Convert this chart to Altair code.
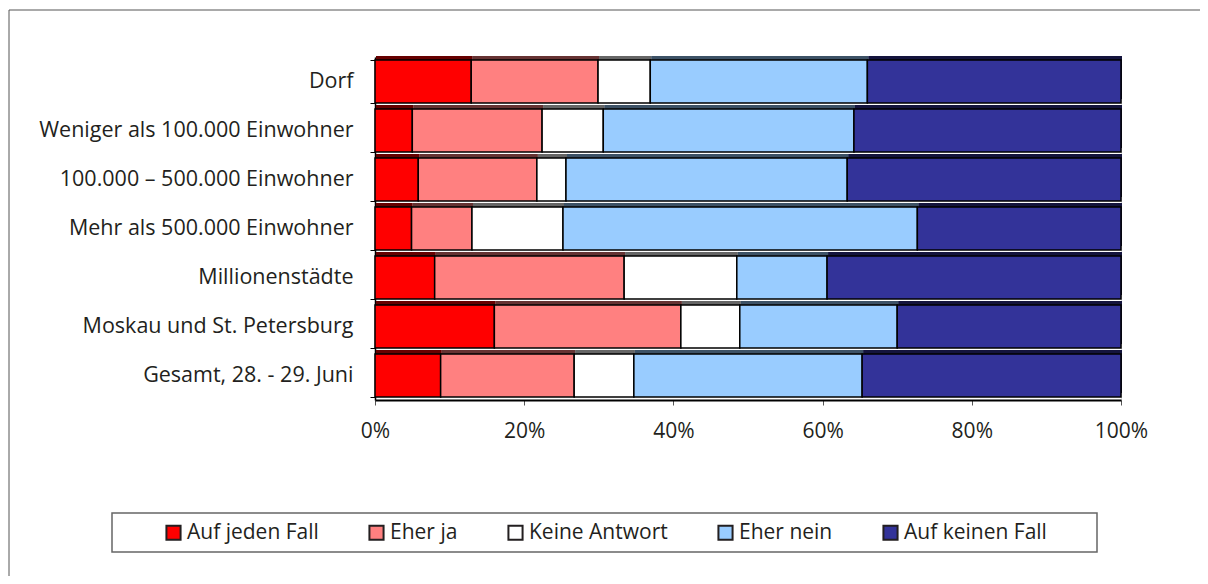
import altair as alt
import pandas as pd

categories = [
    "Dorf",
    "Weniger als 100.000 Einwohner",
    "100.000 – 500.000 Einwohner",
    "Mehr als 500.000 Einwohner",
    "Millionenstädte",
    "Moskau und St. Petersburg",
    "Gesamt, 28. - 29. Juni",
]
answers = ["Auf jeden Fall", "Eher ja", "Keine Antwort", "Eher nein", "Auf keinen Fall"]
auf_jeden_fall = [12.9, 5.0, 5.8, 4.9, 8.0, 16.0, 8.8]
eher_ja = [17.0, 17.4, 15.9, 8.1, 25.4, 25.0, 17.9]
keine_antwort = [7.0, 8.2, 3.9, 12.2, 15.1, 7.9, 8.0]
eher_nein = [29.1, 33.6, 37.7, 47.5, 12.1, 21.1, 30.6]
auf_keinen_fall = [34.0, 35.8, 36.7, 27.3, 39.4, 30.0, 34.7]
colors = ["#FF0000", "#FF8080", "#FFFFFF", "#99CCFF", "#333399"]

series = [auf_jeden_fall, eher_ja, keine_antwort, eher_nein, auf_keinen_fall]
rows = []
for i, ans in enumerate(answers):
    for c, v in zip(categories, series[i]):
        rows.append({"Kategorie": c, "Antwort": ans, "Wert": v, "ord": i})
df = pd.DataFrame(rows)

FONT = "Open Sans"
TXT = "#231F20"
FS = 21

y_enc = alt.Y(
    "Kategorie:N",
    sort=categories,
    title=None,
    scale=alt.Scale(paddingInner=0.12, paddingOuter=0.06),
    axis=alt.Axis(
        tickBand="extent",
        tickSize=5,
        tickColor="#000000",
        domainColor="#000000",
        domainWidth=1.5,
        labelPadding=17,
        labelFontSize=21.5,
        labelFont=FONT,
        labelColor=TXT,
        labelLimit=400,
    ),
)
x_enc = alt.X(
    "Wert:Q",
    stack="normalize",
    title=None,
    scale=alt.Scale(domain=[0, 1], nice=False),
    axis=alt.Axis(
        values=[0, 0.2, 0.4, 0.6, 0.8, 1.0],
        format=".0%",
        tickSize=5,
        tickColor="#555555",
        domainColor="#000000",
        domainWidth=2,
        labelPadding=15,
        labelFlush=False,
        labelFontSize=FS,
        labelFont=FONT,
        labelColor=TXT,
        grid=False,
    ),
)
order_enc = alt.Order("ord:Q", sort="ascending")
color_scale = alt.Scale(domain=answers, range=colors)

legend = alt.Legend(
    orient="none",
    legendX=-212,
    legendY=465,
    direction="horizontal",
    symbolType="square",
    symbolSize=200,
    symbolStrokeColor=TXT,
    symbolStrokeWidth=2,
    symbolOpacity=1,
    labelFontSize=FS,
    labelFont=FONT,
    labelColor=TXT,
    labelOffset=3,
    columnPadding=46,
    padding=0,
    labelLimit=300,
)
color_enc = alt.Color("Antwort:N", scale=color_scale, sort=answers, title=None, legend=legend)

base = alt.Chart(df)

shadow_black = base.mark_bar(color="#000000", xOffset=1, yOffset=-4).encode(
    x=x_enc, y=y_enc, order=order_enc, detail="Antwort:N"
)
shadow_col = base.mark_bar(opacity=0.4, xOffset=1, yOffset=-4).encode(
    x=x_enc, y=y_enc, order=order_enc, color=color_enc
)
main = base.mark_bar(stroke="#000000", strokeWidth=1.5).encode(
    x=x_enc, y=y_enc, order=order_enc, color=color_enc
)

one = alt.Data(values=[{}])
frame_top = alt.Chart(one).mark_rule(color="#555555", strokeWidth=1).encode(
    x=alt.value(-366), x2=alt.value(900), y=alt.value(-47)
)
frame_left = alt.Chart(one).mark_rule(color="#555555", strokeWidth=1).encode(
    x=alt.value(-366), y=alt.value(-47), y2=alt.value(600)
)
legend_box = alt.Chart(one).mark_rect(
    fill="white", stroke="#666666", strokeWidth=1.5
).encode(
    x=alt.value(-263), x2=alt.value(722), y=alt.value(456), y2=alt.value(495)
)

chart = (
    alt.layer(legend_box, shadow_black, shadow_col, main, frame_top, frame_left)
    .properties(
        width=746,
        height=343,
        autosize=alt.AutoSizeParams(type="none"),
        padding={"left": 367, "top": 49, "right": 79, "bottom": 176},
    )
    .configure_view(stroke=None, clip=False)
    .configure(background="white")
)

chart.save("out.html", embed_options={"renderer": "svg", "actions": False})
